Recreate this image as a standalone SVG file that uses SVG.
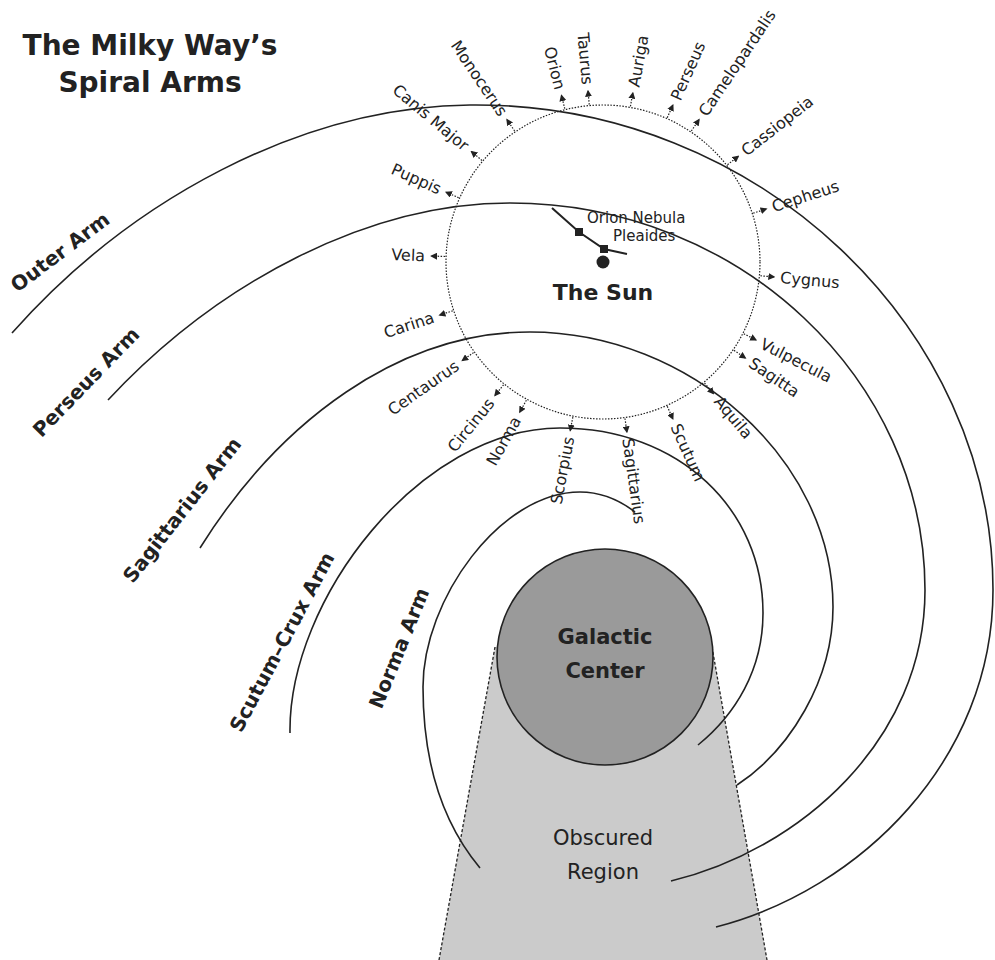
<svg xmlns="http://www.w3.org/2000/svg" width="995" height="960" viewBox="0 0 995 960">
<style>
text{font-family:"DejaVu Sans","Liberation Sans",sans-serif;fill:#222}
.arm{fill:none;stroke:#222;stroke-width:1.6}
.c{font-size:16px;dominant-baseline:central}
.al{font-size:20px;font-weight:bold;text-anchor:middle;dominant-baseline:central}
.ar{stroke:#222;stroke-width:1.2;stroke-dasharray:1.5 1.5;marker-end:url(#ah)}
</style>
<defs>
<marker id="ah" markerUnits="userSpaceOnUse" markerWidth="7" markerHeight="7" refX="6" refY="3.5" orient="auto"><path d="M0,0 L7,3.5 L0,7 z" fill="#222"/></marker>
</defs>
<rect width="995" height="960" fill="#fff"/>
<g id="obscured">
<polygon points="495,647 712,647 767,960 439,960" fill="#cbcbcb"/>
<line x1="495" y1="647" x2="439" y2="960" stroke="#222" stroke-width="1.3" stroke-dasharray="3 2"/>
<line x1="712" y1="647" x2="767" y2="960" stroke="#222" stroke-width="1.3" stroke-dasharray="3 2"/>
<text x="603" y="845" font-size="21" text-anchor="middle">Obscured</text>
<text x="603" y="879" font-size="21" text-anchor="middle">Region</text>
</g>
<g id="arms">
<path class="arm" d="M480,868 C440,820 423,760 423,687 C423,600 500,492 580,492 C605,492 622,502 635,512"/>
<path class="arm" d="M290,733 C288,600 420,428 560,428 C680,428 763,510 763,613 C763,670 735,715 698,745"/>
<path class="arm" d="M200,548 C280,420 400,332 530,332 C690,332 833,460 833,607 C833,680 790,750 737,785"/>
<path class="arm" d="M108,400 C220,280 370,203 510,203 C740,203 925,380 925,590 C925,740 800,850 671,881"/>
<path class="arm" d="M12,333 C130,200 300,107 470,105 C760,102 993,330 993,590 C993,760 860,890 716,927"/>
</g>
<g id="center">
<circle cx="605" cy="657" r="108" fill="#9a9a9a" stroke="#222" stroke-width="1.6"/>
<text x="605" y="644" font-size="21" font-weight="bold" text-anchor="middle">Galactic</text>
<text x="605" y="678" font-size="21" font-weight="bold" text-anchor="middle">Center</text>
</g>
<g id="arm-labels">
<text class="al" transform="translate(60,252) rotate(-37)">Outer Arm</text>
<text class="al" transform="translate(86,382) rotate(-46)">Perseus Arm</text>
<text class="al" transform="translate(182,510) rotate(-52)">Sagittarius Arm</text>
<text class="al" transform="translate(282,642) rotate(-62)">Scutum–Crux Arm</text>
<text class="al" transform="translate(399,648) rotate(-68)">Norma Arm</text>
</g>
<g id="title">
<text x="150" y="55" font-size="28" font-weight="bold" text-anchor="middle">The Milky Way’s</text>
<text x="150" y="92" font-size="28" font-weight="bold" text-anchor="middle">Spiral Arms</text>
</g>
<g id="sun">
<circle cx="603" cy="262" r="157" fill="none" stroke="#222" stroke-width="1.2" stroke-dasharray="1.5 1.5"/>
<polyline points="552,208 579,232 604,249 627,254" fill="none" stroke="#222" stroke-width="2"/>
<rect x="575" y="228" width="8" height="8" fill="#222"/>
<rect x="600" y="245" width="8" height="8" fill="#222"/>
<circle cx="603" cy="262" r="6.5" fill="#222"/>
<text x="587" y="218" font-size="15" dominant-baseline="central">Orion Nebula</text>
<text x="613" y="236" font-size="15" dominant-baseline="central">Pleaides</text>
<text x="603" y="300" font-size="22" font-weight="bold" text-anchor="middle">The Sun</text>
</g>
<g id="constellations">
<g transform="translate(603,262) rotate(-80)"><line class="ar" x1="158" x2="172"/><text class="c" x="178">Auriga</text></g>
<g transform="translate(603,262) rotate(-66)"><line class="ar" x1="158" x2="172"/><text class="c" x="178">Perseus</text></g>
<g transform="translate(603,262) rotate(-56)"><line class="ar" x1="158" x2="172"/><text class="c" x="178">Camelopardalis</text></g>
<g transform="translate(603,262) rotate(-38)"><line class="ar" x1="158" x2="172"/><text class="c" x="178">Cassiopeia</text></g>
<g transform="translate(603,262) rotate(-18)"><line class="ar" x1="158" x2="172"/><text class="c" x="178">Cepheus</text></g>
<g transform="translate(603,262) rotate(5)"><line class="ar" x1="158" x2="172"/><text class="c" x="178">Cygnus</text></g>
<g transform="translate(603,262) rotate(27)"><line class="ar" x1="158" x2="172"/><text class="c" x="178">Vulpecula</text></g>
<g transform="translate(603,262) rotate(34)"><line class="ar" x1="158" x2="172"/><text class="c" x="178">Sagitta</text></g>
<g transform="translate(603,262) rotate(50)"><line class="ar" x1="158" x2="172"/><text class="c" x="178">Aquila</text></g>
<g transform="translate(603,262) rotate(66)"><line class="ar" x1="158" x2="172"/><text class="c" x="178">Scutum</text></g>
<g transform="translate(603,262) rotate(82)"><line class="ar" x1="158" x2="172"/><text class="c" x="178">Sagittarius</text></g>
<g transform="translate(603,262) rotate(-95)"><line class="ar" x1="158" x2="172"/><text class="c" transform="rotate(180)" x="-178" text-anchor="end">Taurus</text></g>
<g transform="translate(603,262) rotate(-104)"><line class="ar" x1="158" x2="172"/><text class="c" transform="rotate(180)" x="-178" text-anchor="end">Orion</text></g>
<g transform="translate(603,262) rotate(-124)"><line class="ar" x1="158" x2="172"/><text class="c" transform="rotate(180)" x="-178" text-anchor="end">Monocerus</text></g>
<g transform="translate(603,262) rotate(-140)"><line class="ar" x1="158" x2="172"/><text class="c" transform="rotate(180)" x="-178" text-anchor="end">Canis Major</text></g>
<g transform="translate(603,262) rotate(-156)"><line class="ar" x1="158" x2="172"/><text class="c" transform="rotate(180)" x="-178" text-anchor="end">Puppis</text></g>
<g transform="translate(603,262) rotate(-178)"><line class="ar" x1="158" x2="172"/><text class="c" transform="rotate(180)" x="-178" text-anchor="end">Vela</text></g>
<g transform="translate(603,262) rotate(162)"><line class="ar" x1="158" x2="172"/><text class="c" transform="rotate(180)" x="-178" text-anchor="end">Carina</text></g>
<g transform="translate(603,262) rotate(145)"><line class="ar" x1="158" x2="172"/><text class="c" transform="rotate(180)" x="-178" text-anchor="end">Centaurus</text></g>
<g transform="translate(603,262) rotate(129)"><line class="ar" x1="158" x2="172"/><text class="c" transform="rotate(180)" x="-178" text-anchor="end">Circinus</text></g>
<g transform="translate(603,262) rotate(119)"><line class="ar" x1="158" x2="172"/><text class="c" transform="rotate(180)" x="-178" text-anchor="end">Norma</text></g>
<g transform="translate(603,262) rotate(101)"><line class="ar" x1="158" x2="172"/><text class="c" transform="rotate(180)" x="-178" text-anchor="end">Scorpius</text></g>
</g>
</svg>
